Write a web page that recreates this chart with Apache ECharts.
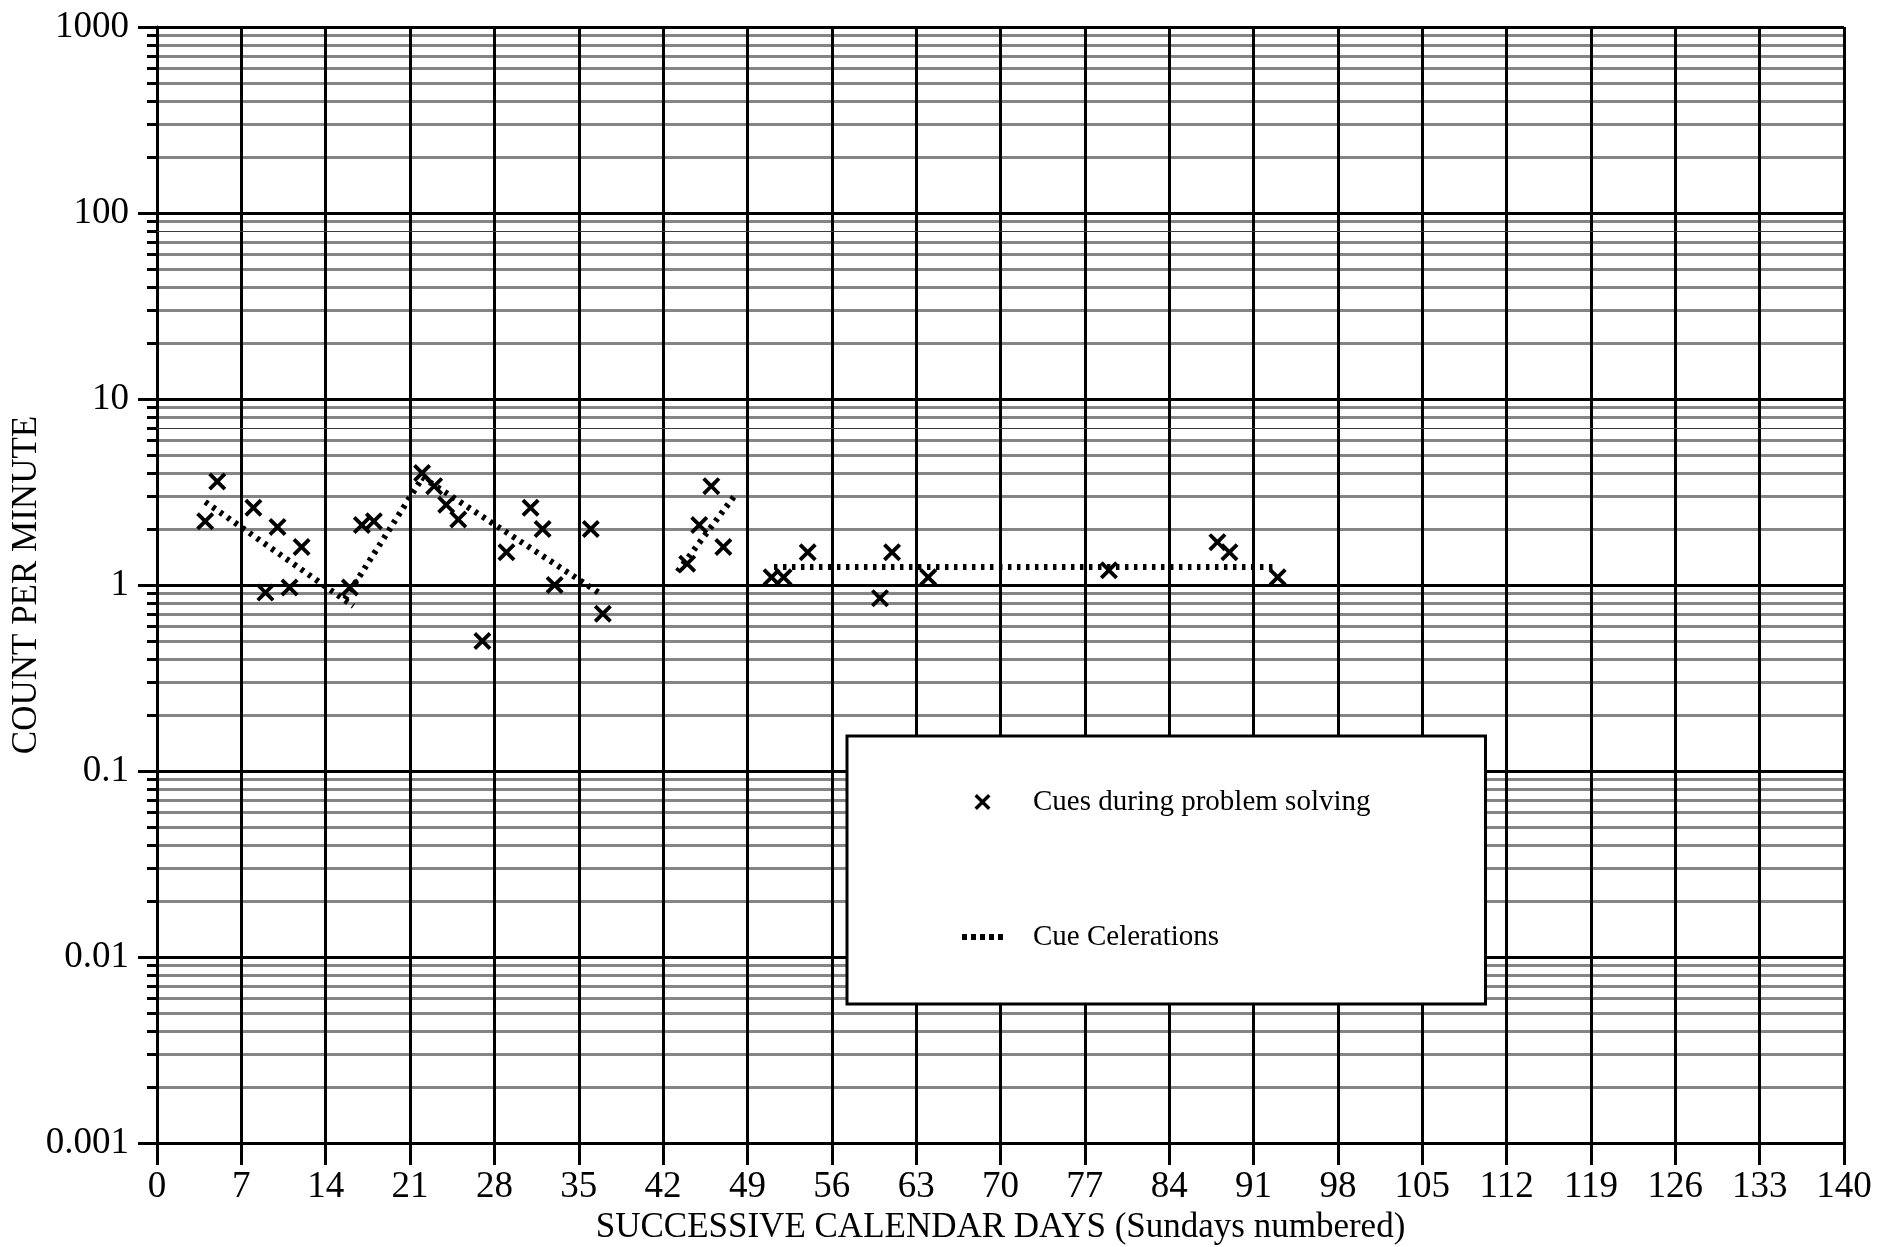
<!DOCTYPE html>
<html>
<head>
<meta charset="utf-8">
<title>Cues during problem solving</title>
<script src="https://cdn.jsdelivr.net/npm/echarts@6/dist/echarts.min.js"></script>
<style>
  html, body { margin: 0; padding: 0; background: #fff; }
  #chart { width: 1879px; height: 1247px; }
</style>
</head>
<body>
<div id="chart"></div>
<script>
// Daily counts per minute (calendar day, count)
const days = [4, 5, 8, 9, 10, 11, 12, 16, 17, 18, 22, 23, 24, 25, 27, 29, 31, 32, 33, 36, 37,
              44, 45, 46, 47, 51, 52, 54, 60, 61, 64, 79, 88, 89, 93];
const counts = [2.2, 3.6, 2.6, 0.91, 2.05, 0.97, 1.6, 0.97, 2.1, 2.2, 4.0, 3.4, 2.7, 2.25, 0.5, 1.5, 2.6, 2.0, 1.0, 2.0, 0.7,
                1.3, 2.1, 3.4, 1.6, 1.1, 1.1, 1.5, 0.85, 1.5, 1.1, 1.2, 1.7, 1.5, 1.1];

// Celeration lines, one segment per phase
const celerationStartDays   = [4,   15.6, 22,  43.2, 51.2];
const celerationStartValues = [2.8, 0.84, 3.8, 1.18, 1.25];
const celerationEndDays     = [16.3, 22,   37,   47.9, 93];
const celerationEndValues   = [0.77, 3.75, 0.88, 3.0,  1.25];

// Axis ticks
const yDecadeValues = [0.001, 0.01, 0.1, 1, 10, 100, 1000];
const yDecadeLabels = ['0.001', '0.01', '0.1', '1', '10', '100', '1000'];
const yMinorMultipliers = [2, 3, 4, 5, 6, 7, 8, 9];
const yFineLineValues = [7, 80];
const xMin = 0, xMax = 140, xStep = 7;

const seriesNames = ['Cues during problem solving', 'Cue Celerations'];

const FONT = "'Liberation Serif', 'Times New Roman', serif";
const X_MARK = 'path://M15,0L50,35L85,0L100,15L65,50L100,85L85,100L50,65L15,100L0,85L35,50L0,15Z';
const DOTTED_ICON = 'path://M0,0H5V6H0Z M9,0H14V6H9Z M18,0H23V6H18Z M27,0H32V6H27Z M36,0H41V6H36Z';

// minor tick values inside each decade
const yMinorValues = [];
yDecadeValues.slice(0, -1).forEach(function (d) {
  yMinorMultipliers.forEach(function (m) { yMinorValues.push(+(d * m).toPrecision(6)); });
});
const yGrayValues = yMinorValues.filter(function (v) {
  return yFineLineValues.every(function (f) { return Math.abs(v - f) > 1e-9; });
});

const scatterData = days.map(function (d, i) { return [d, counts[i]]; });

const celerationSeries = celerationStartDays.map(function (d, i) {
  return {
    name: seriesNames[1],
    type: 'line',
    data: [[d, celerationStartValues[i]], [celerationEndDays[i], celerationEndValues[i]]],
    symbol: 'none',
    showSymbol: false,
    silent: true,
    z: 4,
    itemStyle: { color: '#000' },
    lineStyle: { color: '#000', width: 6, type: [3.5, 5.5] }
  };
});

const chart = echarts.init(document.getElementById('chart'), null, { renderer: 'canvas' });

chart.setOption({
  animation: false,
  backgroundColor: '#fff',
  grid: { left: 157, right: 35, top: 27, bottom: 104, containLabel: false, outerBoundsMode: 'none' },
  xAxis: {
    type: 'value',
    min: xMin,
    max: xMax,
    interval: xStep,
    z: 3,
    name: 'SUCCESSIVE CALENDAR DAYS (Sundays numbered)',
    nameLocation: 'middle',
    nameGap: 67,
    nameMoveOverlap: false,
    nameTextStyle: { fontFamily: FONT, fontSize: 35, color: '#000' },
    axisLine: { show: true, onZero: false, lineStyle: { color: '#000', width: 3 } },
    axisTick: { show: true, inside: false, length: 22, lineStyle: { color: '#000', width: 3 } },
    axisLabel: { show: true, margin: 26, fontFamily: FONT, fontSize: 37, color: '#000' },
    splitLine: { show: true, showMinLine: true, showMaxLine: true, lineStyle: { color: '#000', width: 3 } }
  },
  yAxis: [
    {
      type: 'log',
      logBase: 10,
      min: 0.001,
      max: 1000,
      z: 2,
      name: 'COUNT PER MINUTE',
      nameLocation: 'middle',
      nameGap: 113,
      nameMoveOverlap: false,
      nameTextStyle: { fontFamily: FONT, fontSize: 35, color: '#000' },
      axisLine: { show: true, lineStyle: { color: '#000', width: 3 } },
      axisTick: { show: true, inside: false, length: 19, customValues: yDecadeValues,
                  lineStyle: { color: '#000', width: 3 } },
      axisLabel: {
        show: true, margin: 28, fontFamily: FONT, fontSize: 37, color: '#000',
        customValues: yDecadeValues,
        formatter: function (v) {
          const i = yDecadeValues.findIndex(function (d) { return Math.abs(Math.log10(d / v)) < 1e-6; });
          return i >= 0 ? yDecadeLabels[i] : '';
        }
      },
      splitLine: { show: true, showMinLine: true, showMaxLine: true, lineStyle: { color: '#000', width: 3 } }
    },
    {
      type: 'log',
      logBase: 10,
      min: 0.001,
      max: 1000,
      z: 1,
      position: 'left',
      axisLine: { show: false },
      axisTick: { show: true, inside: false, length: 10, customValues: yMinorValues,
                  lineStyle: { color: '#000', width: 3 } },
      axisLabel: { show: false },
      splitLine: { show: false }
    },
    {
      type: 'log',
      logBase: 10,
      min: 0.001,
      max: 1000,
      z: 1,
      position: 'left',
      axisLine: { show: false },
      axisTick: { show: false, customValues: yGrayValues },
      axisLabel: { show: false },
      splitLine: { show: true, lineStyle: { color: '#858585', width: 3 } }
    }
  ],
  legend: {
    left: 847,
    top: 736,
    orient: 'vertical',
    align: 'left',
    padding: [51, 115, 52, 115],
    itemGap: 105,
    itemWidth: 41,
    itemHeight: 16,
    symbolKeepAspect: true,
    backgroundColor: '#fff',
    borderColor: '#000',
    borderWidth: 3,
    borderRadius: 0,
    selectedMode: false,
    textStyle: { fontFamily: FONT, fontSize: 29, color: '#000', lineHeight: 30, padding: [0, 0, 0, 25] },
    data: [
      { name: seriesNames[0], icon: X_MARK, itemStyle: { color: '#000' } },
      { name: seriesNames[1], icon: DOTTED_ICON, itemStyle: { color: '#000' } }
    ]
  },
  series: [
    {
      name: 'fine rulings',
      type: 'line',
      data: [],
      silent: true,
      z: 1,
      markLine: {
        silent: true,
        symbol: ['none', 'none'],
        label: { show: false },
        lineStyle: { color: '#3a3a3a', width: 1, type: 'solid' },
        data: yFineLineValues.map(function (v) { return { yAxis: v }; })
      }
    },
    {
      name: seriesNames[0],
      type: 'scatter',
      data: scatterData,
      symbol: X_MARK,
      symbolSize: 18,
      symbolKeepAspect: true,
      z: 5,
      itemStyle: { color: '#000', opacity: 1 }
    }
  ].concat(celerationSeries)
});
</script>
</body>
</html>
